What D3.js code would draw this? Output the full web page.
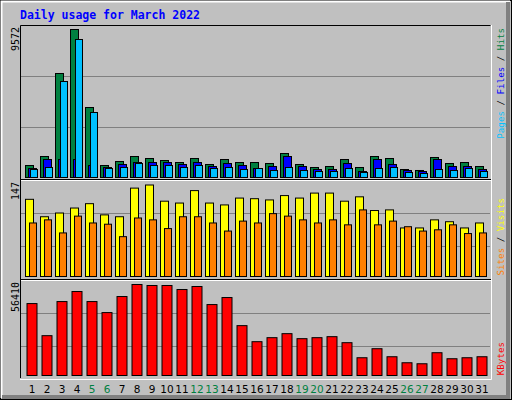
<!DOCTYPE html>
<html><head><meta charset="utf-8">
<script src="https://cdn.jsdelivr.net/npm/d3@7"></script>
<style>body{margin:0;background:#fff}svg{display:block}</style>
</head><body><svg id="chart" width="512" height="400"></svg>
<script>
// values
var days = d3.range(1, 32);
var weekend = [5, 6, 12, 13, 19, 20, 26, 27];
var hits  = [776,1358,6726,9572,4527,776,1035,1358,1229,1099,970,1229,841,1164,970,970,905,1552,841,647,711,1164,647,1358,1229,517,453,1294,905,970,711];
var files = [580,1164,1164,1164,776,647,841,970,970,970,841,970,711,905,776,582,711,1358,711,517,517,905,388,1164,841,453,388,1164,711,711,517];
var pages = [517,647,6209,8925,4204,582,647,905,776,776,647,776,582,647,517,582,453,647,453,388,388,582,323,582,647,323,259,517,453,582,388];
var sites  = [124,96,102,110,117,99,96,142,147,121,118,138,118,115,126,125,123,130,126,134,134,121,128,106,107,78,78,91,88,78,86];
var visits = [86,91,70,97,86,84,64,94,91,77,96,96,86,73,89,86,101,97,91,86,91,83,107,83,89,80,73,75,83,69,70];
var kbytes = [44590,24690,45830,52060,45830,39000,48950,56410,55790,55790,53300,55170,43970,48330,30910,20960,23450,25940,22830,23450,24070,20340,11010,16610,11630,7900,7280,14120,10390,11010,11630];

var svg = d3.select('#chart');
var mono = 'DejaVu Sans Mono, monospace';

// frame
svg.append('rect').attr('width', 512).attr('height', 400).attr('fill', '#c0c0c0');
svg.append('rect').attr('x', 0.5).attr('y', 0.5).attr('width', 511).attr('height', 399).attr('fill', 'none').attr('stroke', '#000');
svg.append('path').attr('d', 'M1.5,398V1.5H510').attr('fill', 'none').attr('stroke', '#fff').attr('stroke-width', 2);
svg.append('path').attr('d', 'M2,397H508V2').attr('fill', 'none').attr('stroke', '#808080').attr('stroke-width', 4);

svg.append('text').attr('x', 20).attr('y', 19).attr('fill', '#0000ff')
    .style('font', 'bold 11.5px ' + mono).text('Daily usage for March 2022');

var x = d3.scaleLinear().domain([1, 31]).range([25, 475]);

var panels = [
    {top: 25, bottom: 180, grid: [76, 127]},
    {top: 180, bottom: 280, grid: [213, 246]},
    {top: 280, bottom: 378, grid: [313, 346]}
];
panels.forEach(function (p) {
    p.grid.forEach(function (g) {
        svg.append('line').attr('x1', 21).attr('x2', 490).attr('y1', g + 0.5).attr('y2', g + 0.5).attr('stroke', '#808080');
    });
});
svg.append('path').attr('d', 'M20.5,378V25.5H490.5').attr('fill', 'none').attr('stroke', '#000');
svg.append('path').attr('d', 'M491.5,25V379.5H20').attr('fill', 'none').attr('stroke', '#fff');
[180, 280].forEach(function (y) {
    svg.append('line').attr('x1', 21).attr('x2', 491).attr('y1', y - 0.5).attr('y2', y - 0.5).attr('stroke', '#000');
    svg.append('line').attr('x1', 21).attr('x2', 491).attr('y1', y + 0.5).attr('y2', y + 0.5).attr('stroke', '#fff');
});

function bars(values, y, dx, w, color) {
    svg.append('g').selectAll('rect').data(values).join('rect')
        .attr('x', function (d, i) { return x(days[i]) + dx + 0.5; })
        .attr('y', function (d) { return y(d) + 0.5; })
        .attr('width', w)
        .attr('height', function (d) { return y(0) - y(d); })
        .attr('fill', color).attr('stroke', '#000');
}

var yTop = d3.scaleLinear().domain([0, d3.max(hits)]).range([177, 29]);
bars(hits, yTop, 0, 8, '#008040');
bars(files, yTop, 3, 8, '#0000ff');
bars(pages, yTop, 5, 7, '#00c0ff');

var yMid = d3.scaleLinear().domain([0, d3.max(sites)]).range([276, 184.5]);
bars(sites, yMid, 0, 8, '#ffff00');
bars(visits, yMid, 4, 7, '#ff8000');

var yBot = d3.scaleLinear().domain([0, d3.max(kbytes)]).range([375, 284]);
bars(kbytes, yBot, 1.5, 10, '#ff0000');

// max labels
[[d3.max(hits), 27], [d3.max(sites), 182], [d3.max(kbytes), 282]].forEach(function (m) {
    svg.append('text').attr('transform', 'translate(19,' + m[1] + ') rotate(-90)')
        .attr('text-anchor', 'end').style('font', '10px ' + mono).text(m[0]);
});

// right legends
function legend(y, parts) {
    var t = svg.append('text').attr('transform', 'translate(504,' + y + ') rotate(-90)')
        .attr('text-anchor', 'end').style('font', '9.2px ' + mono);
    parts.forEach(function (p) { t.append('tspan').attr('fill', p[1]).text(p[0]); });
}
legend(28, [['Pages', '#00c0ff'], [' / ', '#000'], ['Files', '#0000ff'], [' / ', '#000'], ['Hits', '#008040']]);
legend(198, [['Sites', '#ff8000'], [' / ', '#000'], ['Visits', '#ffff00']]);
legend(342, [['KBytes', '#ff0000']]);

// day labels
svg.append('g').selectAll('text').data(days).join('text')
    .attr('x', function (d) { return x(d) + 7; })
    .attr('y', 393).attr('text-anchor', 'middle')
    .style('font', '10.5px DejaVu Sans, sans-serif')
    .attr('fill', function (d) { return weekend.indexOf(d) >= 0 ? '#008040' : '#000'; })
    .text(function (d) { return d; });
</script></body></html>
